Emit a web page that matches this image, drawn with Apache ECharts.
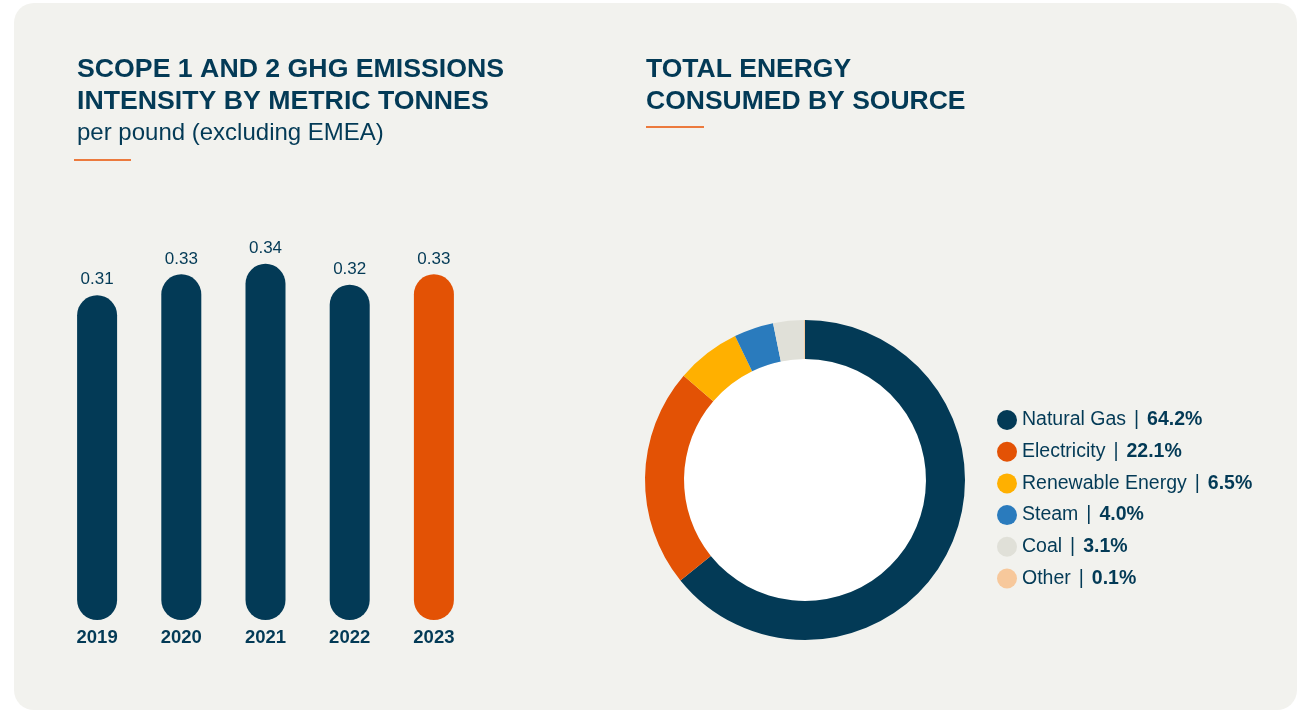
<!DOCTYPE html>
<html>
<head>
<meta charset="utf-8">
<script src="https://cdn.jsdelivr.net/npm/echarts@6/dist/echarts.min.js"></script>
<style>
  html, body { margin: 0; padding: 0; background: #ffffff; }
  #chart { width: 1297px; height: 710px; }
</style>
</head>
<body>
<div id="chart"></div>
<script>
// Emissions intensity by year
const years = ['2019', '2020', '2021', '2022', '2023'];
const intensity = [0.31, 0.33, 0.34, 0.32, 0.33];

// Energy consumed by source (%)
const sources = ['Natural Gas', 'Electricity', 'Renewable Energy', 'Steam', 'Coal', 'Other'];
const shares = [64.2, 22.1, 6.5, 4.0, 3.1, 0.1];

const NAVY = '#033a56';
const ORANGE = '#e35205';
const sourceColors = [NAVY, ORANGE, '#ffb000', '#2a7bbd', '#e0e0d8', '#f7c89b'];
const FONT = '"Liberation Sans", Arial, Helvetica, sans-serif';

const chart = echarts.init(document.getElementById('chart'), null, { renderer: 'canvas' });

const shareByName = {};
sources.forEach((s, i) => { shareByName[s] = shares[i]; });

chart.setOption({
  backgroundColor: '#ffffff',
  animation: false,
  textStyle: { fontFamily: FONT },
  graphic: [
    // card
    { type: 'rect', z: -10, shape: { x: 14, y: 3, width: 1283, height: 707, r: 20 },
      style: { fill: '#f2f2ee' } },
    // headings
    { type: 'text', left: 77, top: 54, style: {
      text: 'SCOPE 1 AND 2 GHG EMISSIONS\nINTENSITY BY METRIC TONNES',
      font: 'bold 26.7px ' + FONT, fill: NAVY, lineHeight: 31.5 } },
    { type: 'text', left: 77, top: 121, style: {
      text: 'per pound (excluding EMEA)', font: '24px ' + FONT, fill: NAVY } },
    { type: 'rect', shape: { x: 74, y: 159, width: 57, height: 2 }, style: { fill: '#ec7a3d' } },
    { type: 'text', left: 646, top: 54, style: {
      text: 'TOTAL ENERGY\nCONSUMED BY SOURCE',
      font: 'bold 26.5px ' + FONT, fill: NAVY, lineHeight: 31.5 } },
    { type: 'rect', shape: { x: 646, y: 126, width: 58, height: 2 }, style: { fill: '#ec7a3d' } },
    // donut hole
    { type: 'circle', z: 1, shape: { cx: 805, cy: 480, r: 121 }, style: { fill: '#ffffff' } }
  ],
  grid: { left: 55, width: 421, top: 201, bottom: 90, containLabel: false },
  xAxis: {
    type: 'category', data: years,
    axisLine: { show: false }, axisTick: { show: false },
    axisLabel: { color: NAVY, fontWeight: 'bold', fontSize: 18.5, margin: 8, fontFamily: FONT }
  },
  yAxis: { type: 'value', min: 0, max: 0.4, show: false, splitLine: { show: false } },
  legend: {
    orient: 'vertical', left: 997, top: 410, padding: 0,
    icon: 'circle', itemWidth: 20, itemHeight: 20, itemGap: 11.7,
    data: sources,
    formatter: name => '{n|' + name + '}{s||}{v|' + shareByName[name].toFixed(1) + '%}',
    textStyle: {
      color: NAVY, fontFamily: FONT,
      rich: {
        n: { fontSize: 19.5, lineHeight: 20, color: NAVY, fontFamily: FONT },
        s: { fontSize: 19.5, lineHeight: 20, color: NAVY, fontFamily: FONT, padding: [0, 8, 0, 8] },
        v: { fontSize: 19.5, lineHeight: 20, color: NAVY, fontWeight: 'bold', fontFamily: FONT }
      }
    }
  },
  series: [
    {
      type: 'bar',
      data: intensity.map((v, i) => ({
        value: v,
        itemStyle: { color: i === intensity.length - 1 ? ORANGE : NAVY }
      })),
      barWidth: 40,
      itemStyle: { borderRadius: 20 },
      label: {
        show: true, position: 'top', distance: 7,
        color: NAVY, fontSize: 17, fontFamily: FONT,
        formatter: p => p.value.toFixed(2)
      }
    },
    {
      type: 'pie',
      center: [805, 480],
      radius: [121, 160],
      startAngle: 90,
      clockwise: true,
      silent: true,
      label: { show: false },
      labelLine: { show: false },
      itemStyle: { borderWidth: 0 },
      data: sources.map((s, i) => ({ name: s, value: shares[i], itemStyle: { color: sourceColors[i] } }))
    }
  ]
});
</script>
</body>
</html>
